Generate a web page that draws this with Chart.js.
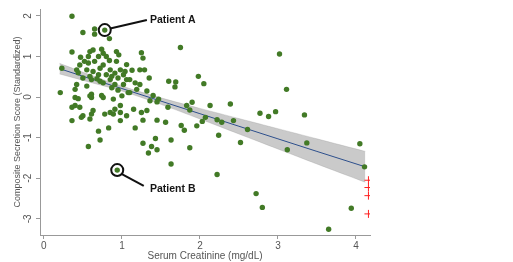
<!DOCTYPE html>
<html lang="en">
<head>
<meta charset="UTF-8">
<title>Serum Creatinine vs Composite Secretion Score</title>
<script src="https://cdn.jsdelivr.net/npm/chart.js"></script>
<style>
  html, body { margin: 0; padding: 0; background: #fff; }
</style>
</head>
<body>
<canvas id="scoreChart" width="513" height="262"></canvas>
<script>
// patients (serum creatinine, standardized score)
const creatinine = [
  0.36, 0.50, 0.65, 0.65, 0.78, 0.84, 0.36, 0.59, 0.63, 0.74,
  0.76, 0.93, 0.96, 0.47, 0.57, 0.70, 0.65, 0.84, 0.46, 0.57,
  0.76, 0.93, 1.06, 0.42, 0.55, 0.63, 0.72, 0.85, 0.98, 0.59,
  0.70, 0.80, 0.87, 1.04, 0.23, 0.44, 0.91, 1.02, 0.50, 0.61,
  0.72, 0.85, 0.95, 1.06, 0.42, 0.55, 0.76, 0.91, 1.02, 0.87,
  0.95, 1.08, 0.21, 0.40, 0.40, 0.44, 0.61, 0.61, 0.76, 0.89,
  1.00, 0.36, 0.40, 0.50, 0.61, 0.78, 0.85, 0.89, 0.98, 0.98,
  1.06, 0.36, 0.59, 0.98, 0.70, 0.83, 0.72, 0.57, 0.46, 0.63,
  0.91, 0.48, 0.74, 0.59, 0.52, 1.25, 1.27, 1.13, 1.23, 1.29,
  1.35, 1.10, 1.17, 1.23, 1.60, 1.69, 1.68, 1.98, 2.05, 1.10,
  1.19, 1.40, 1.36, 1.45, 1.59, 1.90, 2.13, 1.32, 1.25, 2.07,
  1.15, 1.27, 1.45, 0.80, 1.75, 1.32, 1.47, 1.83, 1.87, 1.56,
  1.76, 1.80, 1.96, 2.03, 1.17, 1.43, 1.63, 1.27, 1.38, 1.45,
  1.34, 1.87, 1.63, 0.68, 3.02, 3.11, 2.39, 2.77, 2.88, 2.97,
  3.34, 2.22, 2.28, 2.43, 2.61, 2.24, 2.52, 3.12, 3.37, 4.05,
  4.11, 2.22, 2.72, 2.80, 3.94, 3.65, 0.94
];
const secretionScore = [
  1.99, 1.59, 1.68, 1.55, 1.65, 1.44, 1.11, 1.12, 1.16, 1.18,
  1.08, 1.12, 1.04, 0.98, 1.00, 1.00, 0.88, 0.90, 0.79, 0.84,
  0.79, 0.88, 0.80, 0.67, 0.67, 0.63, 0.71, 0.67, 0.67, 0.51,
  0.55, 0.55, 0.51, 0.63, 0.71, 0.60, 0.59, 0.55, 0.47, 0.43,
  0.39, 0.43, 0.47, 0.43, 0.31, 0.27, 0.35, 0.31, 0.31, 0.23,
  0.17, 0.11, 0.11, 0.19, -0.01, -0.04, 0.07, -0.01, -0.01, -0.05,
  0.03, -0.25, -0.21, -0.46, -0.42, -0.42, -0.38, -0.42, -0.21, -0.38,
  -0.46, -0.58, -0.54, -0.58, -0.84, -0.76, -1.06, -1.22, -0.25, -0.33,
  -0.30, -0.50, 0.04, 0.03, 0.88, 1.09, 0.96, 0.66, 0.67, 0.67,
  0.47, 0.43, 0.35, 0.31, 0.39, 0.37, 0.25, 0.51, 0.33, 0.11,
  0.19, 0.04, -0.09, -0.12, -0.25, -0.13, -0.21, -0.33, -0.38, -0.50,
  -0.30, -0.57, -0.57, 1.00, 1.22, 0.15, -0.05, -0.21, -0.32, -0.62,
  -0.70, -0.82, -0.71, -0.60, -0.76, -1.02, -1.06, -1.14, -1.22, -1.30,
  -1.38, -1.25, -1.65, 0.45, 1.06, 0.19, -0.17, -0.40, -0.48, -0.36,
  -0.44, -0.56, -0.62, -0.58, -0.80, -0.94, -1.12, -1.30, -1.13, -1.15,
  -1.72, -1.91, -2.38, -2.72, -2.74, -3.26, -1.80
];

// values plotted at the right edge with a red cross
const censoredCreatinine = [4.16, 4.16, 4.16, 4.16];
const censoredScore = [-2.05, -2.23, -2.43, -2.88];

// fitted line and its confidence band
const fitX = [0.2, 0.6, 1.0, 1.5, 2.0, 2.5, 3.0, 3.5, 4.12];
const fitY = [0.70, 0.45, 0.21, -0.10, -0.41, -0.72, -1.03, -1.34, -1.72];
const ciUpper = [0.83, 0.54, 0.27, -0.02, -0.28, -0.53, -0.78, -1.03, -1.34];
const ciLower = [0.57, 0.36, 0.15, -0.18, -0.54, -0.91, -1.28, -1.65, -2.10];

// highlighted patients
const patientNames = ['Patient A', 'Patient B'];
const patientX = [0.78, 0.94];
const patientY = [1.65, -1.80];

const xTicks = [0, 1, 2, 3, 4];
const yTicks = [-3, -2, -1, 0, 1, 2];

function toPoints(xs, ys) {
    return xs.map((x, i) => ({ x: x, y: ys[i] }));
}

// where the callout lines go (start near circle, end near the label)
const calloutLines = [
    [{ x: 0.85, y: 1.69 }, { x: 1.32, y: 1.90 }],
    [{ x: 1.00, y: -1.90 }, { x: 1.28, y: -2.19 }]
];
const labelSpots = [{ x: 1.36, y: 1.90 }, { x: 1.36, y: -2.26 }];

// draws the bold patient names
const patientLabels = {
    id: 'patientLabels',
    afterDatasetsDraw(chart) {
        const ctx = chart.ctx;
        const xs = chart.scales.x, ys = chart.scales.y;
        ctx.save();
        ctx.font = 'bold 10.5px "Liberation Sans", Arial, sans-serif';
        ctx.fillStyle = '#151515';
        ctx.textAlign = 'left';
        ctx.textBaseline = 'middle';
        patientNames.forEach((name, i) => {
            ctx.fillText(name, xs.getPixelForValue(labelSpots[i].x), ys.getPixelForValue(labelSpots[i].y));
        });
        ctx.restore();
    }
};

const axisFont = { family: '"Liberation Sans", Arial, sans-serif', size: 10 };

new Chart(document.getElementById('scoreChart'), {
    type: 'scatter',
    data: {
        datasets: [
            {
                label: 'ci upper',
                data: toPoints(fitX, ciUpper),
                showLine: true,
                fill: '+1',
                backgroundColor: 'rgba(150,150,150,0.5)',
                borderColor: 'rgba(150,150,150,0.6)',
                borderWidth: 0.5,
                pointRadius: 0,
                tension: 0.3,
                order: 4
            },
            {
                label: 'ci lower',
                data: toPoints(fitX, ciLower),
                showLine: true,
                fill: false,
                borderColor: 'rgba(150,150,150,0.6)',
                borderWidth: 0.5,
                pointRadius: 0,
                tension: 0.3,
                order: 4
            },
            {
                label: 'fit',
                data: toPoints(fitX, fitY),
                showLine: true,
                fill: false,
                borderColor: '#2d4f8c',
                borderWidth: 1,
                pointRadius: 0,
                order: 3
            },
            {
                label: 'patients',
                data: toPoints(creatinine, secretionScore),
                backgroundColor: '#427a26',
                borderColor: '#427a26',
                borderWidth: 0,
                pointRadius: 2.7,
                order: 2
            },
            {
                label: 'censored',
                data: toPoints(censoredCreatinine, censoredScore),
                pointStyle: 'cross',
                pointRadius: 4,
                borderColor: '#ff2020',
                borderWidth: 1,
                order: 2
            },
            {
                label: 'circles',
                data: toPoints(patientX, patientY),
                pointRadius: 6,
                borderWidth: 2,
                borderColor: '#111',
                backgroundColor: 'rgba(0,0,0,0)',
                order: 1
            },
            {
                label: 'callout A',
                data: calloutLines[0],
                showLine: true,
                borderColor: '#111',
                borderWidth: 2,
                pointRadius: 0,
                order: 1
            },
            {
                label: 'callout B',
                data: calloutLines[1],
                showLine: true,
                borderColor: '#111',
                borderWidth: 2,
                pointRadius: 0,
                order: 1
            }
        ]
    },
    options: {
        responsive: false,
        animation: false,
        layout: { padding: { top: 5, right: 143, left: 0, bottom: 0 } },
        plugins: { legend: { display: false }, tooltip: { enabled: false } },
        scales: {
            x: {
                type: 'linear',
                min: -0.05,
                max: 4.18,
                afterBuildTicks: s => { s.ticks = xTicks.map(v => ({ value: v })); },
                afterFit: s => { s.height = 27; },
                grid: { drawOnChartArea: false, drawTicks: true, tickLength: 4, color: '#999' },
                border: { display: true, color: '#999' },
                ticks: { font: axisFont, color: '#555', padding: 1 },
                title: { display: true, text: 'Serum Creatinine (mg/dL)', font: axisFont, color: '#555', padding: 0 }
            },
            y: {
                type: 'linear',
                min: -3.4,
                max: 2.17,
                afterBuildTicks: s => { s.ticks = yTicks.map(v => ({ value: v })); },
                afterFit: s => { s.width = 40; },
                grid: { drawOnChartArea: false, drawTicks: true, tickLength: 4, color: '#999' },
                border: { display: true, color: '#999' },
                ticks: { font: axisFont, color: '#555', padding: 3, minRotation: 90, maxRotation: 90, crossAlign: 'center' },
                title: {
                    display: true,
                    text: 'Composite Secretion Score (Standardized)',
                    font: { family: '"Liberation Sans", Arial, sans-serif', size: 9 },
                    color: '#555',
                    padding: { top: 12, bottom: 0 }
                }
            }
        }
    },
    plugins: [patientLabels]
});
</script>
</body>
</html>
